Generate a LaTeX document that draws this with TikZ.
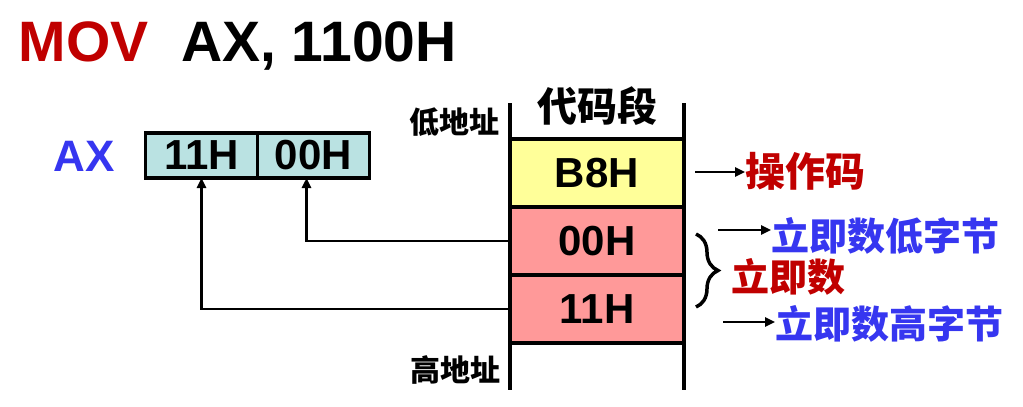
\documentclass[tikz,border=0pt]{standalone}
\usepackage{fontspec}
\setmainfont{Liberation Sans}
\newfontfamily\cjk{Noto Sans CJK SC}
\usepackage{xcolor}
\usetikzlibrary{arrows.meta,positioning,decorations.pathreplacing}
\definecolor{movred}{HTML}{C00000}
\definecolor{axblue}{HTML}{3636F0}
\definecolor{regcyan}{HTML}{BAE2E2}
\definecolor{opyellow}{HTML}{FFFF99}
\definecolor{datapink}{HTML}{FF9999}
\newcommand\fsz[1]{\fontsize{#1}{#1}\selectfont}

\begin{document}
\begin{tikzpicture}[x=1pt, y=-1pt, every node/.style={inner sep=0pt, outer sep=0pt}, reg/.style={draw, line width=3.2pt, fill=regcyan, minimum width=112pt, minimum height=45pt, font=\fsz{42}\bfseries}, cell/.style={draw, line width=3.2pt, minimum width=174pt, minimum height=68pt, font=\fsz{42}\bfseries}, cn/.style={font=\cjk\bfseries}, arr/.style={-{Triangle[length=10pt,width=9pt]}, line width=2.4pt}]
\useasboundingbox (0,0) rectangle (1023,407);
% instruction
\node[anchor=base west, font=\fsz{57}\bfseries, text=movred] (mov) at (19,61) {MOV};
\node[anchor=base west, font=\fsz{57}\bfseries] (ops) at (181,61) {AX, 1100H};
% register AX
\node[font=\fsz{44}\bfseries, text=axblue] (axl) at (84,156) {AX};
\node[reg] (r11) at (201.5,155.5) {11H};
\node[reg, right=0pt of r11] (r00) {00H};
% code segment
\node[cell, fill=opyellow] (cB8) at (597,173) {B8H};
\node[cell, fill=datapink, below=0pt of cB8] (c00) {00H};
\node[cell, fill=datapink, below=0pt of c00] (c11) {11H};
\coordinate (segTL) at (510,103); \coordinate (segBL) at (510,390);
\coordinate (segTR) at (684,103); \coordinate (segBR) at (684,390);
\draw[line width=3.2pt] (segTL) -- (segBL) (segTR) -- (segBR);
\node[cn, font=\cjk\bfseries\fsz{40}] (seg) at (597,106) {代码段};
\node[cn, font=\cjk\bfseries\fsz{30}] (lowaddr) at (454,122) {低地址};
\node[cn, font=\cjk\bfseries\fsz{30}] (highaddr) at (455,370) {高地址};
% data moves into AX
\draw[arr] (c00.west) -| ([xshift=-7pt]r00.south);
\draw[arr] (c11.west) -| (r11.south);
% annotations
\node[cn, font=\cjk\bfseries\fsz{40}, text=movred, anchor=west] (opc) at (745,171) {操作码};
\coordinate (opa) at (695,172);
\draw[arr] (opa) -- (opa -| opc.west);
\node[cn, font=\cjk\bfseries\fsz{38}, text=axblue, anchor=west] (lowb) at (771,236) {立即数低字节};
\coordinate (lowa) at (718,230);
\draw[arr] (lowa) -- (lowa -| lowb.west);
\coordinate (brt) at (696,234); \coordinate (brb) at (696,307);
\draw[line width=3.5pt, decorate, decoration={brace, amplitude=22pt}] (brt) -- (brb);
\node[cn, font=\cjk\bfseries\fsz{38}, text=movred, anchor=west] (imm) at (731,277) {立即数};
\node[cn, font=\cjk\bfseries\fsz{38}, text=axblue, anchor=west] (highb) at (775,324) {立即数高字节};
\coordinate (higha) at (723,322);
\draw[arr] (higha) -- (higha -| highb.west);
\end{tikzpicture}
\end{document}
